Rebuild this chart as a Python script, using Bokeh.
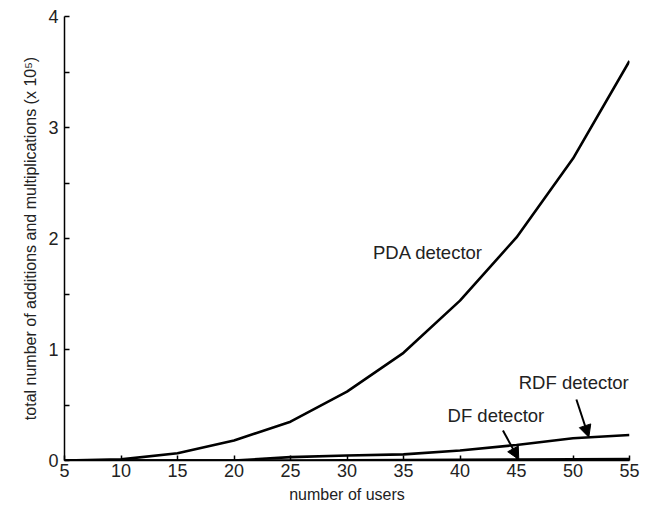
from bokeh.plotting import figure
from bokeh.models import Range1d, FixedTicker, Arrow, NormalHead, Label
from bokeh.embed import file_html
from bokeh.resources import INLINE

users = [5, 10, 15, 20, 25, 30, 35, 40, 45, 50, 55]
pda = [0.0, 0.01, 0.065, 0.18, 0.35, 0.62, 0.97, 1.44, 2.01, 2.72, 3.6]
rdf = [0.0, 0.0, 0.0, 0.0, 0.03, 0.045, 0.055, 0.09, 0.14, 0.2, 0.23]
df = [0.0, 0.0, 0.0, 0.0, 0.0, 0.002, 0.004, 0.006, 0.008, 0.01, 0.012]

x_ticks = [5, 10, 15, 20, 25, 30, 35, 40, 45, 50, 55]
y_ticks = [0, 0.5, 1, 1.5, 2, 2.5, 3, 3.5, 4]
y_labels = {0: "0", 0.5: "", 1: "1", 1.5: "", 2: "2", 2.5: "", 3: "3", 3.5: "", 4: "4"}

FONT = "Liberation Sans"

p = figure(width=651, height=515, output_backend="svg", toolbar_location=None,
           x_range=Range1d(5, 55), y_range=Range1d(0, 4),
           min_border_left=64, min_border_right=22, min_border_top=16, min_border_bottom=55)
p.outline_line_color = None
p.grid.visible = False
p.background_fill_color = "white"
p.border_fill_color = "white"

for ys in (pda, rdf, df):
    p.line(users, ys, line_color="black", line_width=2.6)

p.xaxis.ticker = FixedTicker(ticks=x_ticks)
p.yaxis.ticker = FixedTicker(ticks=y_ticks)
p.yaxis.major_label_overrides = y_labels
for ax in (p.xaxis, p.yaxis):
    ax.major_tick_in = 5
    ax.major_tick_out = 0
    ax.minor_tick_in = 0
    ax.minor_tick_out = 0
    ax.axis_line_width = 1.5
    ax.axis_line_color = "black"
    ax.major_tick_line_color = "black"
    ax.major_tick_line_width = 1.5
    ax.major_label_text_font = FONT
    ax.major_label_text_font_size = "18px"
    ax.major_label_text_color = "#222222"
    ax.axis_label_text_font = FONT
    ax.axis_label_text_font_size = "16px"
    ax.axis_label_text_font_style = "normal"
    ax.axis_label_text_color = "#222222"
p.xaxis.axis_label = "number of users"
p.yaxis.axis_label = "total number of additions and multiplications (x 10\u2075)"
p.xaxis.major_label_standoff = 3
p.yaxis.major_label_standoff = 6
p.xaxis.axis_label_standoff = 6
p.yaxis.axis_label_standoff = 6

labels = [("PDA detector", 32.3, 1.87), ("RDF detector", 45.2, 0.70), ("DF detector", 38.9, 0.405)]
for txt, x, y in labels:
    p.add_layout(Label(x=x, y=y, text=txt, text_font=FONT, text_font_size="18.5px",
                       text_color="#222222", text_baseline="middle", text_align="left"))

arrows = [(50.3, 0.55, 51.4, 0.21), (43.8, 0.27, 45.2, 0.01)]
for x0, y0, x1, y1 in arrows:
    p.add_layout(Arrow(end=NormalHead(size=12, fill_color="black", line_color="black"),
                       x_start=x0, y_start=y0, x_end=x1, y_end=y1,
                       line_color="black", line_width=2))

open("out.html", "w").write(file_html(p, INLINE))
